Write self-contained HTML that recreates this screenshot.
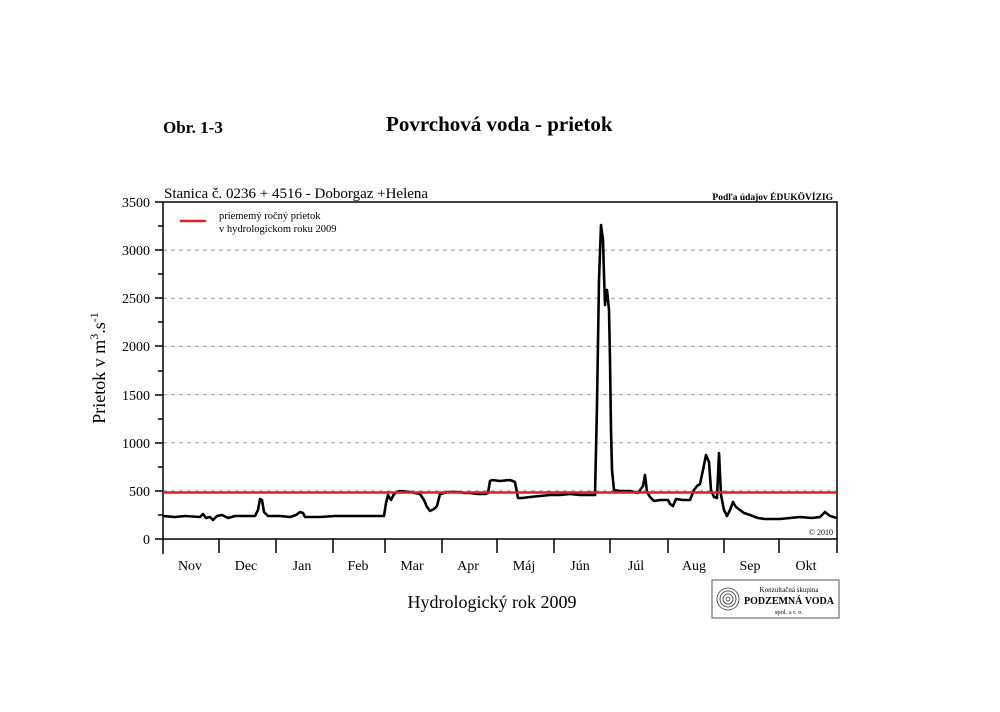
<!DOCTYPE html>
<html><head><style>
body{margin:0;background:#fff;}
svg text{font-family:"Liberation Serif",serif;}
</style></head><body>
<svg width="1000" height="707" viewBox="0 0 1000 707" xmlns="http://www.w3.org/2000/svg">
<rect width="1000" height="707" fill="#fff"/>
<text x="163" y="133" font-size="17" font-weight="bold">Obr. 1-3</text>
<text x="386" y="131" font-size="21" font-weight="bold">Povrchová voda - prietok</text>
<text x="164" y="198" font-size="15">Stanica č. 0236 + 4516 - Doborgaz +Helena</text>
<text x="833" y="200" font-size="9.5" font-weight="bold" text-anchor="end">Podľa údajov ÉDUKÖVÍZIG</text>
<g stroke="#999" stroke-dasharray="4,4" stroke-width="1">
<line x1="163" x2="837" y1="250.1" y2="250.1"/><line x1="163" x2="837" y1="298.3" y2="298.3"/>
<line x1="163" x2="837" y1="346.4" y2="346.4"/><line x1="163" x2="837" y1="394.6" y2="394.6"/>
<line x1="163" x2="837" y1="442.7" y2="442.7"/><line x1="163" x2="837" y1="490.9" y2="490.9"/>
</g>
<g stroke="#000" stroke-width="1.5" fill="none">
<rect x="163" y="202" width="674" height="337"/>
<line x1="163" x2="163" y1="539" y2="554"/>
<path d="M219 539v14M276 539v14M333 539v14M385 539v14M442 539v14M497 539v14M554 539v14M610 539v14M668 539v14M724 539v14M779 539v14M837 539v14"/>
<path d="M155 202h8M155 250h8M155 298h8M155 346h8M155 395h8M155 443h8M155 491h8M155 539h8M158 226h5M158 274h5M158 322h5M158 371h5M158 419h5M158 467h5M158 515h5"/>
</g>
<g font-size="14" text-anchor="end">
<text x="150" y="207">3500</text><text x="150" y="255">3000</text><text x="150" y="303">2500</text>
<text x="150" y="351">2000</text><text x="150" y="400">1500</text><text x="150" y="448">1000</text>
<text x="150" y="496">500</text><text x="150" y="544">0</text>
</g>
<g font-size="14" text-anchor="middle">
<text x="190" y="570">Nov</text><text x="246" y="570">Dec</text><text x="302" y="570">Jan</text>
<text x="358" y="570">Feb</text><text x="412" y="570">Mar</text><text x="468" y="570">Apr</text>
<text x="524" y="570">Máj</text><text x="580" y="570">Jún</text><text x="636" y="570">Júl</text>
<text x="694" y="570">Aug</text><text x="750" y="570">Sep</text><text x="806" y="570">Okt</text>
</g>
<text x="492" y="608" font-size="18" text-anchor="middle">Hydrologický rok 2009</text>
<text transform="translate(105 368) rotate(-90)" font-size="18" text-anchor="middle">Prietok v m<tspan font-size="12" dy="-7">3</tspan><tspan dy="7">.s</tspan><tspan font-size="12" dy="-7">-1</tspan></text>
<line x1="180" x2="206" y1="221" y2="221" stroke="#e02020" stroke-width="2.5"/>
<text x="219" y="219" font-size="10.5">priememý ročný prietok</text>
<text x="219" y="232" font-size="10.5">v hydrologickom roku 2009</text>
<text x="833" y="535" font-size="8" text-anchor="end">© 2010</text>
<polyline fill="none" stroke="#000" stroke-width="2.6" stroke-linejoin="round" points="163,516 175,517 185,516 200,517 203,514 206,518 210,517 213,520 217,516 222,515 228,518 235,516 245,516 255,516 258,510 260,499 262,500 264,512 268,516 280,516 290,517 296,515 300,512 303,513 305,517 320,517 335,516 350,516 370,516 384,516 386,503 388,495 391,500 394,494 397,492 400,491 410,492 420,494 424,500 427,507 430,511 434,509 437,506 440,494 444,493 448,492 458,492 465,493 470,493 478,494 485,494 488,493 490,481 492,480 500,481 510,480 515,482 518,498 522,498 530,497 540,496 550,495 560,495 570,494 580,495 590,495 595,495 597,405 599,280 601,225 603,240 604,275 605,305 606,295 607,290 608,300 609,310 610,360 611,430 612,470 614,490 620,491 630,491 638,493 643,486 645,475 647,492 650,497 654,501 660,500 668,500 670,504 673,506 676,499 683,500 690,500 694,490 697,486 700,484 703,470 706,455 709,462 711,490 714,497 717,498 719,453 721,495 724,510 727,516 730,510 733,502 736,507 740,510 744,513 750,515 758,518 765,519 780,519 790,518 800,517 812,518 820,517 825,512 830,516 837,518"/>
<line x1="163" x2="837" y1="492.5" y2="492.5" stroke="#e02020" stroke-width="2.5"/>
<rect x="712" y="580" width="127" height="38" fill="#fff" stroke="#555" stroke-width="1"/>
<g fill="none" stroke="#333" stroke-width="0.8">
<circle cx="728" cy="599" r="11"/><circle cx="728" cy="599" r="8"/><circle cx="728" cy="599" r="5"/><circle cx="728" cy="599" r="2"/>
</g>
<text x="789" y="592" font-size="7" text-anchor="middle">Konzultačná skupina</text>
<text x="789" y="604" font-size="10" font-weight="bold" text-anchor="middle">PODZEMNÁ VODA</text>
<text x="789" y="614" font-size="6.5" text-anchor="middle">spol. s r. o.</text>
</svg>
</body></html>
